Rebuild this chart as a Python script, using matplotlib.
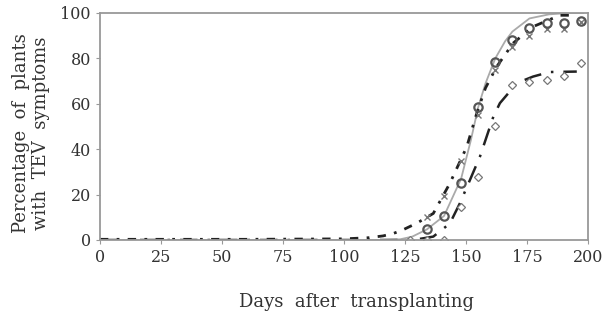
import matplotlib.pyplot as plt

# observed percentages (weekly readings)
obs_days = [134, 141, 148, 155, 162, 169, 176, 183, 190, 197]
circles = [4.7, 10.6, 25, 58.5, 78.3, 88, 93.5, 95.5, 95.6, 96.3]
crosses = [10, 19.5, 35, 55, 75, 85, 89.7, 93, 93, 96]
diamond_days = [127, 134, 141, 148, 155, 162, 169, 176, 183, 190, 197]
diamonds = [0, 0, 0, 14.7, 27.9, 50, 68.3, 69.8, 70.5, 72.4, 78.1]

# fitted curves
fit1_x = [0, 100, 115, 123, 128, 134, 141, 148, 152, 155, 158, 162, 166, 169, 176, 184, 192, 198]
fit1_y = [0, 0, 0, 0.3, 1.5, 4.7, 10.6, 27, 44, 58.5, 69, 80, 87.5, 91.8, 97.6, 99.4, 100, 100]
fit2_x = [0, 60, 100, 110, 116, 120, 124, 130, 136.6, 143.4, 150.3, 154.4, 158, 162.6, 169.4, 177.5, 188.5, 195.4]
fit2_y = [0.3, 0.3, 0.5, 1, 1.8, 2.8, 4.4, 7.5, 11.7, 25, 41, 55.8, 67, 76.4, 86.8, 94, 99, 99]
fit3_x = [0, 100, 125, 130, 136.6, 143.4, 147.5, 151.6, 155.7, 161.2, 163.9, 167.3, 170.5, 177.5, 184.3, 195.4]
fit3_y = [0, 0, 0, 0.3, 1.5, 7.3, 16.2, 26.4, 36.7, 54.3, 60.3, 64.6, 69, 72, 74, 74.2]

plt.rcParams['font.family'] = ['DejaVu Serif']

fig = plt.figure(figsize=(6.02, 3.22), dpi=100)
ax = fig.add_axes([100/602, 1-240/322, 488/602, 227/322])

ax.plot(fit1_x, fit1_y, color='#aaaaaa', lw=1.3)
ax.plot(fit2_x, fit2_y, color='#222222', lw=2, linestyle=(0, (3, 3, 1, 3)))
ax.plot(fit3_x, fit3_y, color='#222222', lw=1.8, linestyle=(0, (7, 4, 1, 4)))

ax.plot(obs_days, crosses, 'x', color='#777777', ms=4, mew=1)
ax.plot(obs_days, circles, 'o', mfc='none', mec='#555555', ms=6, mew=1.6)
ax.plot(diamond_days, diamonds, 'D', mfc='white', mec='#777777', ms=4, mew=0.9)

ax.set_xlim(0, 200)
ax.set_ylim(0, 100)
ax.set_xticks(range(0, 201, 25))
ax.set_yticks(range(0, 101, 20))
for s in ax.spines.values():
    s.set_color('#999999')
    s.set_linewidth(1.3)
ax.tick_params(colors='#999999', labelcolor='#333333', labelsize=11.5, length=3)

ax.set_ylabel('Percentage  of  plants\nwith  TEV  symptoms', fontsize=13, color='#333333',
              linespacing=1.1)
ax.yaxis.set_label_coords(-0.103, 0.47)
ax.set_xlabel('Days  after  transplanting', fontsize=13, color='#333333')
ax.xaxis.set_label_coords(0.525, -0.235)

fig.savefig('out.png', dpi=100)
